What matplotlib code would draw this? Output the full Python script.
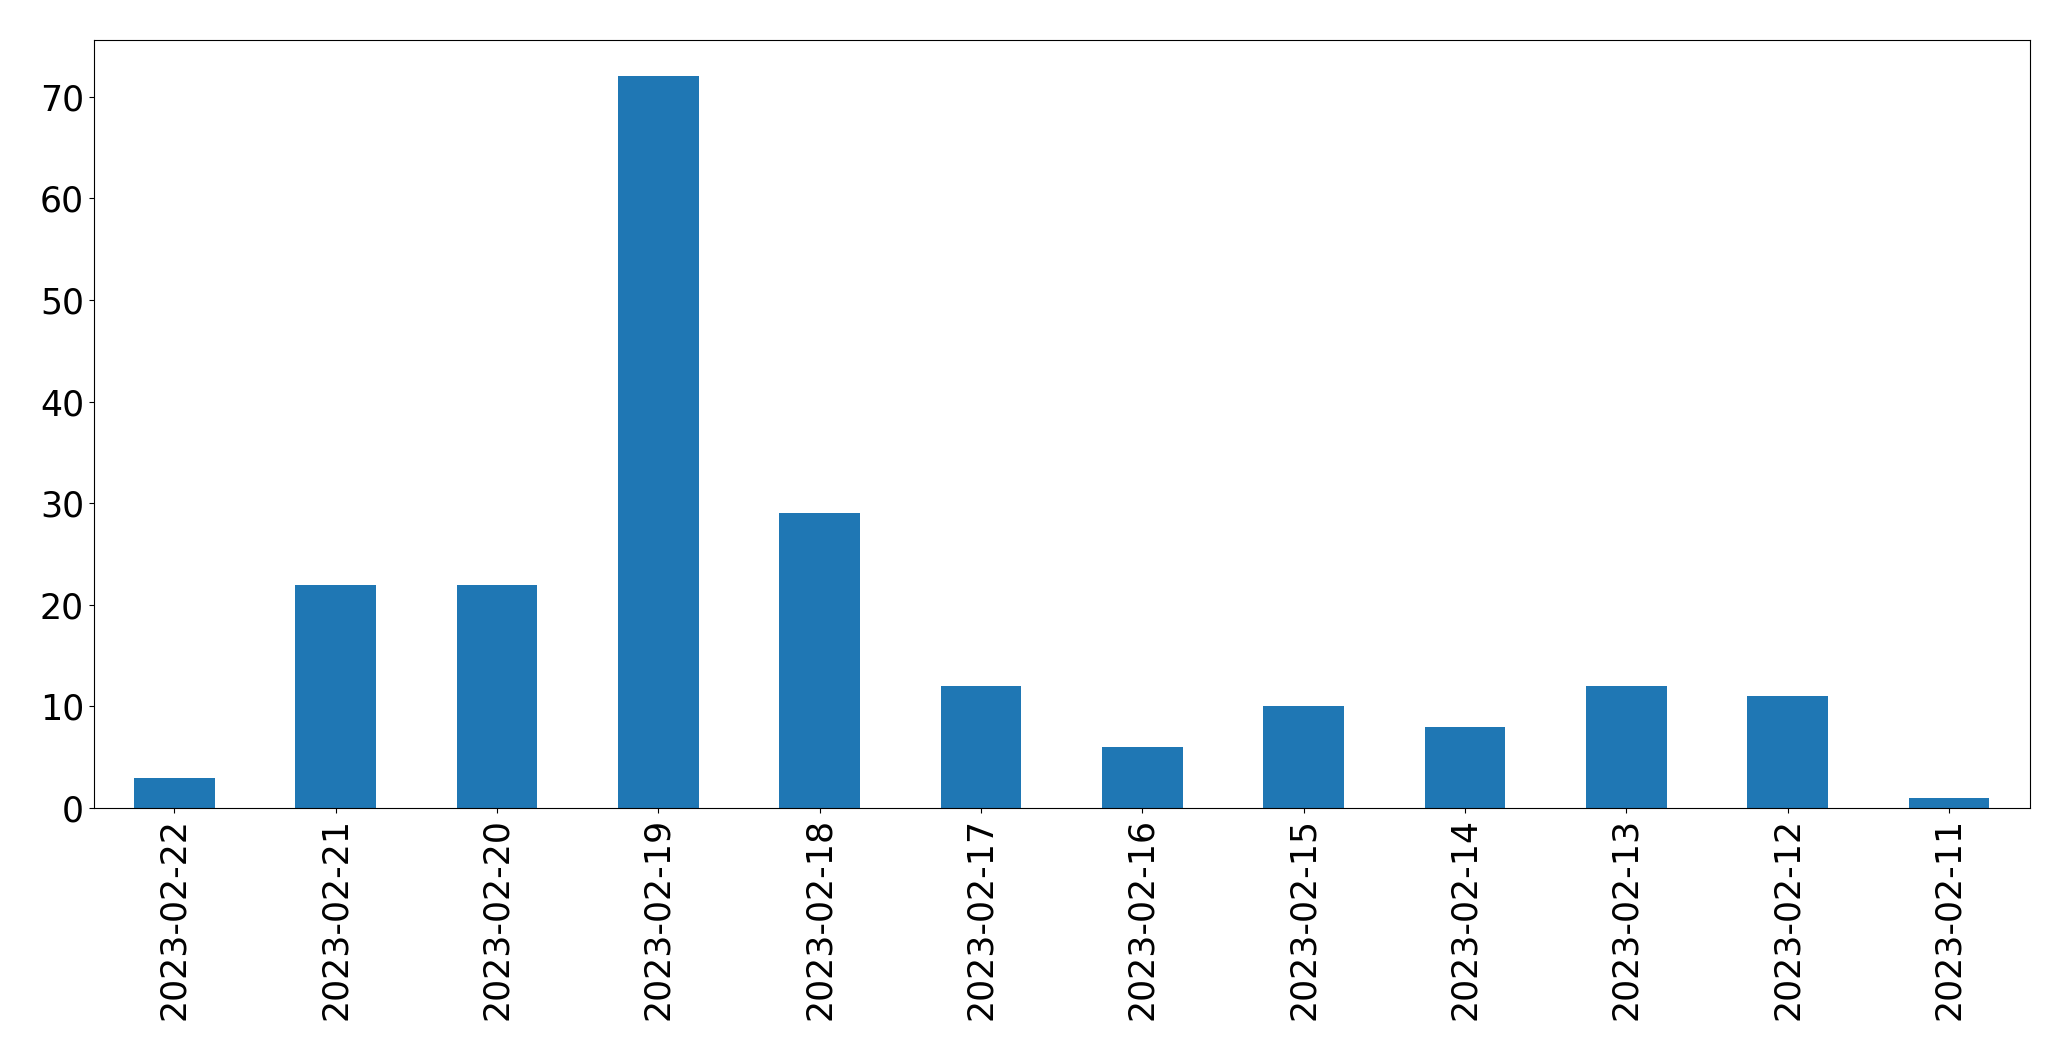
import pandas as pd
import matplotlib
matplotlib.use('Agg')
import matplotlib.pyplot as plt

# daily counts, newest first
dates = ['2023-02-22', '2023-02-21', '2023-02-20', '2023-02-19', '2023-02-18', '2023-02-17',
         '2023-02-16', '2023-02-15', '2023-02-14', '2023-02-13', '2023-02-12', '2023-02-11']
counts = [3, 22, 22, 72, 29, 12, 6, 10, 8, 12, 11, 1]

s = pd.Series(counts, index=dates)

fig, ax = plt.subplots(figsize=(20.71, 10.61), dpi=100)
s.plot(kind='bar', ax=ax, fontsize=25)
plt.subplots_adjust(left=0.0453, right=0.980, top=0.9627, bottom=0.2383)

plt.savefig('out.png', dpi=100)
